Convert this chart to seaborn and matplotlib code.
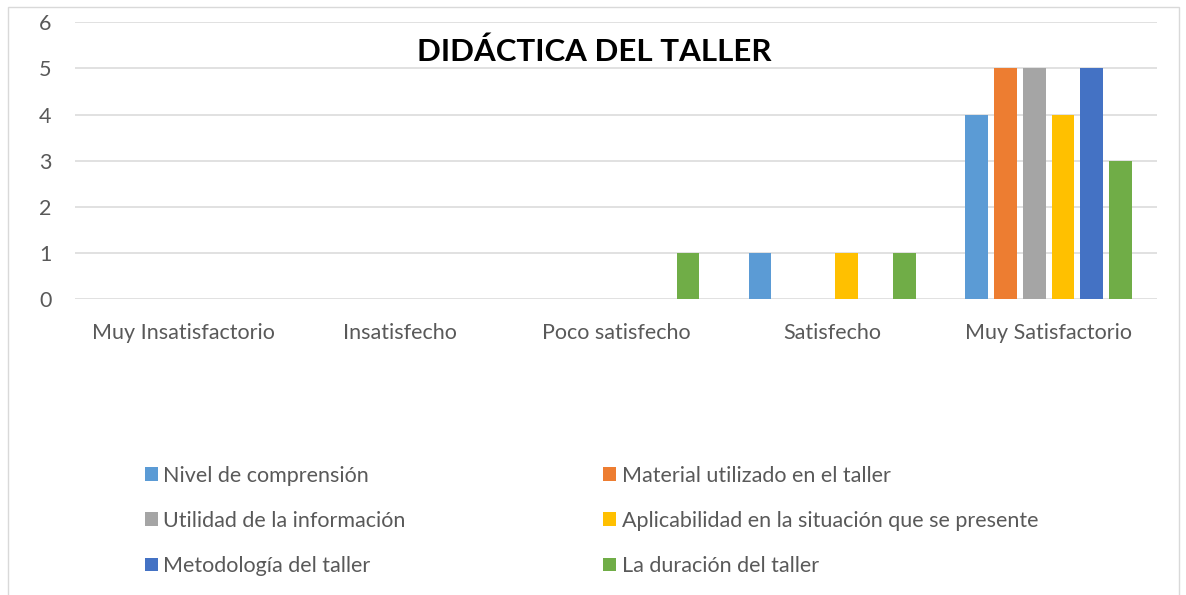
import pandas as pd
import numpy as np
import matplotlib
matplotlib.use("Agg")
import matplotlib.pyplot as plt
import seaborn as sns
from matplotlib.patches import Rectangle

categories = ["Muy Insatisfactorio", "Insatisfecho", "Poco satisfecho",
              "Satisfecho", "Muy Satisfactorio"]
series = ["Nivel de comprensión", "Material utilizado en el taller",
          "Utilidad de la información",
          "Aplicabilidad en la situación que se presente",
          "Metodología del taller", "La duración del taller"]

nivel = [0, 0, 0, 1, 4]
material = [0, 0, 0, 0, 5]
utilidad = [0, 0, 0, 0, 5]
aplicabilidad = [0, 0, 0, 1, 4]
metodologia = [0, 0, 0, 0, 5]
duracion = [0, 0, 1, 1, 3]

colors = ["#5B9BD5", "#ED7D31", "#A5A5A5", "#FFC000", "#4472C4", "#70AD47"]

rows = []
for name, vals in zip(series, [nivel, material, utilidad, aplicabilidad,
                               metodologia, duracion]):
    for cat, v in zip(categories, vals):
        rows.append({"categoria": cat, "serie": name, "valor": v})
df = pd.DataFrame(rows)

sns.set_style("white")
plt.rcParams["font.family"] = ["Lato", "DejaVu Sans"]
txt = "#595959"

W, H = 1186, 595
fig = plt.figure(figsize=(W / 100, H / 100), dpi=100)
ax = fig.add_axes([75 / W, 1 - 299.3 / H, (1156.7 - 75) / W, (299.3 - 22.3) / H])

sns.barplot(data=df, x="categoria", y="valor", hue="serie",
            order=categories, hue_order=series, palette=colors,
            saturation=1, linewidth=0,
            width=0.80, gap=0.21, ax=ax, legend=True)

ax.set_ylim(0, 6)
ax.set_xlim(-0.5, len(categories) - 0.5)
ax.set_yticks(range(0, 7))
ax.yaxis.grid(True, color="#D9D9D9", linewidth=1.1)
ax.set_axisbelow(True)
for s in ax.spines.values():
    s.set_visible(False)
ax.tick_params(axis="both", length=0, labelsize=15.5, labelcolor=txt)
ax.tick_params(axis="x", pad=17)
ax.tick_params(axis="y", pad=17)
ax.set_xlabel("")
ax.set_ylabel("")

handles, labels = ax.get_legend_handles_labels()
ax.get_legend().remove()
order = [0, 2, 4, 1, 3, 5]
leg = fig.legend([handles[i] for i in order], [labels[i] for i in order],
                 ncol=2, loc="upper left", bbox_to_anchor=(136 / W, 1 - 457 / H),
                 frameon=False, fontsize=15.5, handlelength=0.6, handleheight=0.6,
                 handletextpad=0.25, columnspacing=9.2, labelspacing=1.17,
                 borderaxespad=0)
for t in leg.get_texts():
    t.set_color(txt)

fig.text(594 / W, 1 - 52 / H, "DIDÁCTICA DEL TALLER", ha="center", va="center",
         fontsize=22.5, fontweight="bold", color="black")

fig.patches.append(Rectangle((8 / W, -0.05), (1179 - 8) / W, 1 - 7 / H + 0.05,
                             transform=fig.transFigure, fill=False,
                             edgecolor="#D9D9D9", linewidth=1))

fig.savefig("out.png", dpi=100)
